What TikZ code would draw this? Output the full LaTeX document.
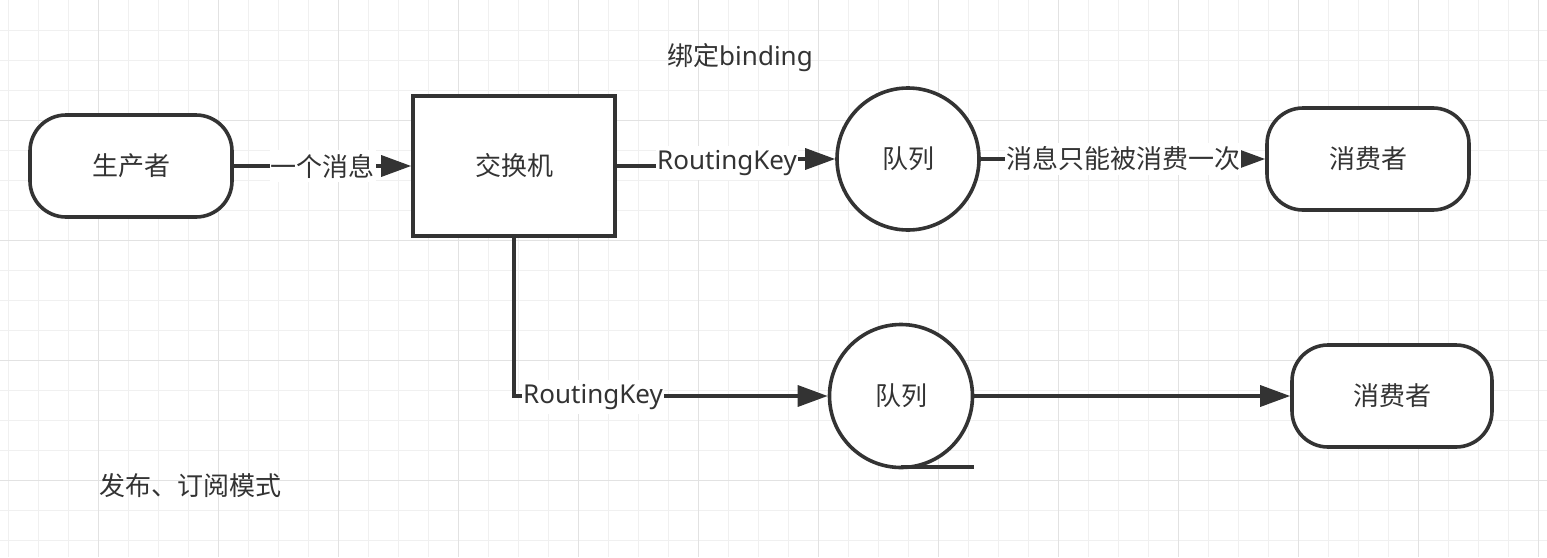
\documentclass[tikz,border=0pt]{standalone}
\usepackage{fontspec}
\setmainfont{Noto Sans}
\newfontfamily\cjk{Noto Sans CJK SC}
\usetikzlibrary{arrows.meta}
\definecolor{ink}{HTML}{333333}
\definecolor{gridminor}{HTML}{F0F0F0}
\definecolor{gridmajor}{HTML}{E2E2E2}
\tikzset{
  every node/.style={text=ink, font=\fontsize{26}{30}\selectfont},
  shapeline/.style={draw=ink, line width=3.6pt, fill=white},
  term/.style={shapeline, rectangle, rounded corners=36pt, minimum width=202pt, minimum height=102pt, inner sep=0pt},
  boxnode/.style={shapeline, rectangle, minimum width=202pt, minimum height=140pt, inner sep=0pt},
  queue/.style={shapeline, circle, inner sep=0pt},
  conn/.style={draw=ink, line width=3.4pt},
  arr/.style={conn, -{Triangle[length=30pt,width=21pt]}},
  lbl/.style={fill=white, inner xsep=1pt, inner ysep=4pt},
  gminor/.style={draw=gridminor, line width=1pt},
  gmajor/.style={draw=gridmajor, line width=1pt}
}
\begin{document}
\begin{tikzpicture}[x=1pt, y=-1pt]
\useasboundingbox (0,0) rectangle (1547,557);
\fill[white] (0,0) rectangle (1547,557);
% grid
\foreach \x in {8,38,...,1547} \draw[gminor] (\x,0) -- (\x,557);
\foreach \y in {30,60,...,557} \draw[gminor] (0,\y) -- (1547,\y);
\foreach \x in {98,218,...,1547} \draw[gmajor] (\x,0) -- (\x,557);
\foreach \y in {120,240,...,557} \draw[gmajor] (0,\y) -- (1547,\y);

% nodes
\node[term] (prod) at (131,166) {\cjk 生产者};
\node[boxnode] (ex) at (514,166) {\cjk 交换机};
\node[queue, minimum size=142pt] (q1) at (908,159) {\cjk 队列};
\node[term] (c1) at (1368,159) {\cjk 消费者};
\node[queue, minimum size=143pt] (q2) at (901,396) {\cjk 队列};
\node[term, minimum width=200pt] (c2) at (1392,396) {\cjk 消费者};

% connectors
\draw[arr] (prod.east) -- node[lbl] {\cjk 一个消息} (ex.west);

\coordinate (m2) at (727,0);
\draw[arr] (ex.east) -- (ex.east -| m2) -- (q1.west -| m2) -- (q1.west);
\node[lbl] (l2) at (727,163) {RoutingKey};

\draw[arr] (q1.east) -- node[lbl] {\cjk 消息只能被消费一次} (c1.west);

\draw[arr] (ex.south) |- (q2.west);
\node[lbl] (l4) at (593,397) {RoutingKey};

\draw[arr] (q2.east) -- (c2.west);
\draw[conn] ([yshift=2.2pt]q2.south) -- ([yshift=2.2pt]q2.south -| q2.east);

% free texts
\node (bind) at (740,58) {{\cjk 绑定}binding};
\node (title) at (190,486) {\cjk 发布、订阅模式};
\end{tikzpicture}
\end{document}
